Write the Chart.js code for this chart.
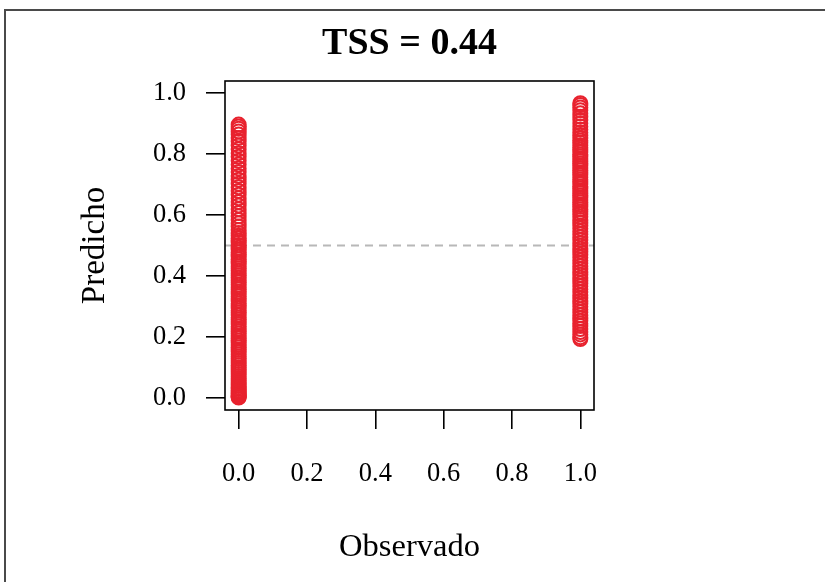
<!DOCTYPE html>
<html>
<head>
<meta charset="utf-8">
<script src="https://cdn.jsdelivr.net/npm/chart.js@4"></script>
<style>
  html, body { margin: 0; padding: 0; background: #fff; }
  #wrap { position: relative; width: 825px; height: 582px; overflow: hidden; }
  #frame { position: absolute; left: 4px; top: 9px; width: 900px; height: 700px;
           border-top: 2px solid #4a4a4a; border-left: 2px solid #4a4a4a; }
  canvas { position: absolute; left: 0; top: 0; }
</style>
</head>
<body>
<div id="wrap">
  <div id="frame"></div>
  <canvas id="c" width="825" height="582"></canvas>
</div>
<script>
// TSS plot: predicted vs observed (presence / absence)

const chartTitle = "TSS = 0.44";
const xLabel = "Observado";
const yLabel = "Predicho";
const tickValues = [0, 0.2, 0.4, 0.6, 0.8, 1.0];
const threshold = 0.5;

// predicted values for observed = 0
const predAbsent = [
  0.001, 0.003, 0.005, 0.008, 0.012, 0.015, 0.019, 0.024, 0.029, 0.034, 0.039, 0.045,
  0.051, 0.058, 0.064, 0.071, 0.078, 0.085, 0.092, 0.099, 0.107, 0.114, 0.121, 0.129,
  0.136, 0.143, 0.151, 0.158, 0.166, 0.173, 0.181, 0.188, 0.196, 0.203, 0.211, 0.219,
  0.226, 0.234, 0.242, 0.249, 0.257, 0.264, 0.272, 0.280, 0.287, 0.295, 0.302, 0.310,
  0.318, 0.325, 0.333, 0.341, 0.348, 0.356, 0.363, 0.371, 0.379, 0.386, 0.394, 0.402,
  0.409, 0.417, 0.425, 0.432, 0.440, 0.447, 0.455, 0.463, 0.470, 0.478, 0.486, 0.493,
  0.501, 0.509, 0.516, 0.524, 0.532, 0.541, 0.551, 0.562, 0.573, 0.584, 0.596, 0.607,
  0.619, 0.631, 0.643, 0.655, 0.667, 0.679, 0.691, 0.703, 0.716, 0.728, 0.741, 0.753,
  0.766, 0.778, 0.791, 0.803, 0.816, 0.828, 0.841, 0.853, 0.864, 0.874, 0.883, 0.891,
  0.897
];

// predicted values for observed = 1
const predPresent = [
  0.193, 0.199, 0.208, 0.216, 0.226, 0.236, 0.244, 0.253, 0.262, 0.271, 0.281, 0.290,
  0.300, 0.309, 0.318, 0.328, 0.337, 0.347, 0.356, 0.366, 0.375, 0.385, 0.394, 0.404,
  0.413, 0.423, 0.432, 0.442, 0.451, 0.461, 0.470, 0.480, 0.489, 0.499, 0.508, 0.518,
  0.527, 0.537, 0.546, 0.556, 0.565, 0.575, 0.584, 0.594, 0.603, 0.611, 0.619, 0.627,
  0.634, 0.642, 0.649, 0.657, 0.664, 0.672, 0.679, 0.687, 0.694, 0.702, 0.709, 0.717,
  0.724, 0.732, 0.739, 0.747, 0.754, 0.762, 0.769, 0.777, 0.784, 0.792, 0.799, 0.807,
  0.814, 0.822, 0.829, 0.837, 0.845, 0.853, 0.862, 0.871, 0.881, 0.891, 0.901, 0.912,
  0.923, 0.934, 0.944, 0.953, 0.961, 0.967
];

const pts = predAbsent.map(v => ({ x: 0, y: v }))
  .concat(predPresent.map(v => ({ x: 1, y: v })));

const serif = "'Liberation Serif', 'DejaVu Serif', serif";

// draws the box around the plot and the main title
const boxPlugin = {
  id: "box",
  afterDraw(chart) {
    const { ctx, chartArea: a } = chart;
    ctx.save();
    ctx.strokeStyle = "#000";
    ctx.lineWidth = 1.6;
    ctx.strokeRect(a.left, a.top, a.right - a.left, a.bottom - a.top);
    ctx.fillStyle = "#000";
    ctx.font = "bold 38px " + serif;
    ctx.textAlign = "center";
    ctx.textBaseline = "middle";
    ctx.fillText(chartTitle, (a.left + a.right) / 2, 44);
    ctx.restore();
  }
};

new Chart(document.getElementById("c"), {
  type: "scatter",
  data: {
    datasets: [
      {
        type: "line",
        data: [{ x: -0.04, y: threshold }, { x: 1.04, y: threshold }],
        borderColor: "#b8b8b8",
        borderWidth: 1.8,
        borderDash: [8, 6],
        pointRadius: 0,
        order: 2
      },
      {
        data: pts,
        pointRadius: 7,
        pointBorderWidth: 2,
        pointBorderColor: "rgb(232,34,46)",
        pointBackgroundColor: "rgba(0,0,0,0)",
        order: 1
      }
    ]
  },
  options: {
    responsive: false,
    animation: false,
    layout: { padding: { top: 81, right: 231, bottom: 0, left: 0 } },
    plugins: { legend: { display: false }, tooltip: { enabled: false }, title: { display: false } },
    scales: {
      x: {
        type: "linear",
        min: -0.04,
        max: 1.04,
        afterBuildTicks: s => { s.ticks = tickValues.map(v => ({ value: v })); },
        afterFit: s => { s.height = 172; },
        border: { display: false },
        grid: { drawOnChartArea: false, drawTicks: true, tickLength: 19, color: "#000", lineWidth: 1.6 },
        ticks: {
          color: "#000",
          font: { family: serif, size: 26.5 },
          padding: 29,
          maxRotation: 0,
          callback: v => Number(v).toFixed(1)
        },
        title: {
          display: true,
          text: xLabel,
          color: "#000",
          font: { family: serif, size: 32.5 },
          padding: { top: 0, bottom: 15 }
        }
      },
      y: {
        type: "linear",
        min: -0.04,
        max: 1.04,
        afterBuildTicks: s => { s.ticks = tickValues.map(v => ({ value: v })); },
        afterFit: s => { s.width = 225; },
        border: { display: false },
        grid: { drawOnChartArea: false, drawTicks: true, tickLength: 19, color: "#000", lineWidth: 1.6 },
        ticks: {
          color: "#000",
          font: { family: serif, size: 26.5 },
          padding: 20,
          callback: v => Number(v).toFixed(1)
        },
        title: {
          display: true,
          text: yLabel,
          color: "#000",
          font: { family: serif, size: 33 },
          padding: { top: 76, bottom: 0 }
        }
      }
    }
  },
  plugins: [boxPlugin]
});
</script>
</body>
</html>
